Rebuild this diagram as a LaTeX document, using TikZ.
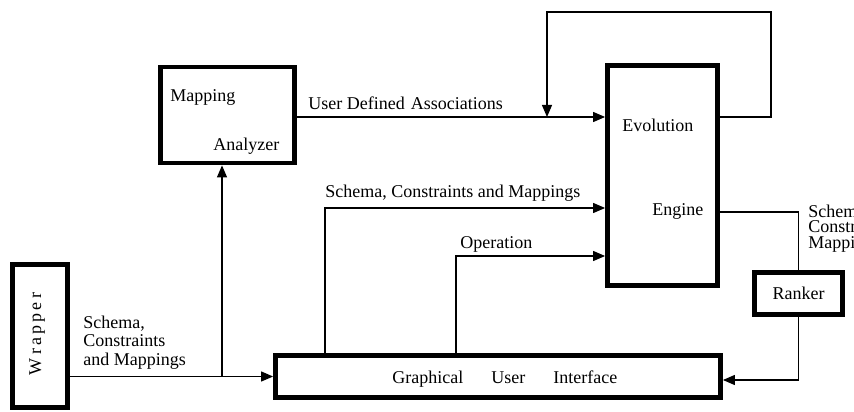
\documentclass[tikz,border=0pt]{standalone}
\usepackage{fontspec}
\setmainfont{Liberation Serif}
\usetikzlibrary{arrows.meta,calc}

\begin{document}
\begin{tikzpicture}[x=0.5pt,y=-0.5pt,
  box/.style={draw,line width=2.4pt,inner sep=0pt,font=\fontsize{9}{9.25}\selectfont},
  wire/.style={line width=0.6pt},
  arr/.style={wire,-{Triangle[length=6pt,width=5pt]}},
  lbl/.style={inner sep=0pt,anchor=base west,align=left,font=\fontsize{9}{9.25}\selectfont}]
\useasboundingbox (0,0) rectangle (854,411);

% blocks
\node[box,minimum width=27.5pt,minimum height=71.5pt] (wr) at (40,336) {};
\node[box,minimum width=67pt,minimum height=48pt] (ma) at (227.5,115) {};
\node[box,minimum width=55pt,minimum height=110pt] (ee) at (662.5,175.5) {};
\node[box,minimum width=222.5pt,minimum height=21pt] (gui) at (498,376.5) {};
\node[box,minimum width=44pt,minimum height=21pt] (rk) at (798.5,293.5) {Ranker};

% texts inside the blocks
\node[lbl,anchor=base,rotate=90] (wrt) at (41,334)
  {W\hspace{1.6pt}r\hspace{1.6pt}a\hspace{1.6pt}p\hspace{1.6pt}p\hspace{1.6pt}e\hspace{1.6pt}r};
\node[lbl] (mat1) at (170,102) {Mapping};
\node[lbl] (mat2) at (213,151) {Analyzer};
\node[lbl] (eet1) at (622,132) {Evolution};
\node[lbl] (eet2) at (652,215) {Engine};
\node[lbl] (guit) at (392,383) {Graphical\hspace{14pt}User\hspace{14pt}Interface};

% connectors
\coordinate (split) at (222,376.5);
\coordinate (fbr) at (771,12);
\coordinate (fbl) at (547,117);
\draw[arr] (wr.east |- gui.west) -- (gui.west);
\draw[arr] (split) -- (split |- ma.south);
\draw[arr] (ma.east |- fbl) -- (ee.west |- fbl);
\draw[arr] (ee.east |- fbl) -| (fbr) -| (fbl);
\draw[arr] (gui.north -| 325,0) |- (ee.west |- 0,208);
\draw[arr] (gui.north -| 456,0) |- (ee.west |- 0,256);
\draw[wire] (ee.east |- 0,212) -| (rk.north);
\draw[arr] (rk.south) |- (gui.east |- 0,380);

% connector labels (base = last line)
\node[lbl] (lwr) at (83,365) {Schema,\\Constraints\\and Mappings};
\node[lbl] (luda) at (308,110) {User Defined\hspace{3pt}Associations};
\node[lbl] (lscm) at (325,197) {Schema, Constraints and Mappings};
\node[lbl] (lop) at (460,248) {Operation};
\node[lbl,font=\fontsize{9}{7.75}\selectfont] (lrk) at (808,248) {Schema,\\Constraints\\Mappings};
\end{tikzpicture}
\end{document}
